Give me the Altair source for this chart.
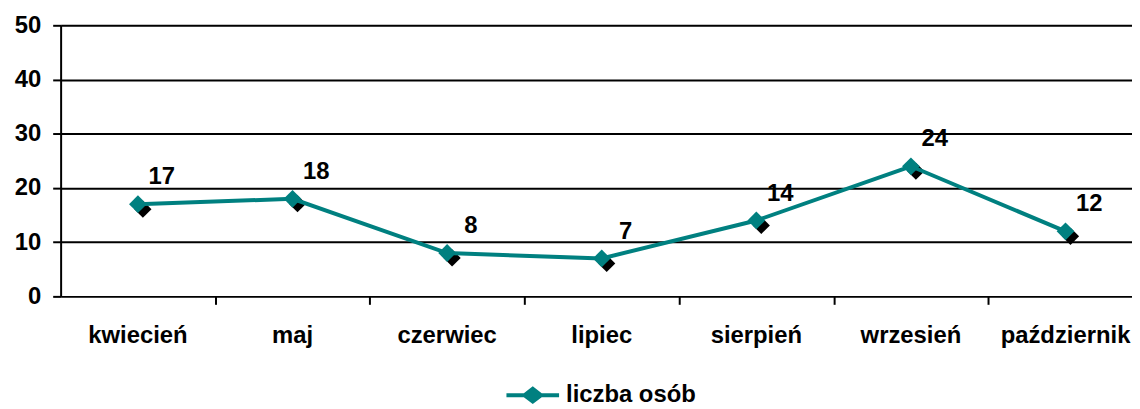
import altair as alt
import pandas as pd

months = ["kwiecień", "maj", "czerwiec", "lipiec", "sierpień", "wrzesień", "październik"]
counts = [17, 18, 8, 7, 14, 24, 12]
series_name = "liczba osób"
y_ticks = [0, 10, 20, 30, 40, 50]

df = pd.DataFrame({
    "month": months,
    "count": counts,
    "pos": [i + 0.5 for i in range(len(months))],
    "series": [series_name] * len(months),
})

TEAL = "#008080"
FONT = "Liberation Sans"
FS = 24
W, H = 1079, 273
STEP = 155.7

xscale = alt.Scale(domain=[0, W / STEP], nice=False, zero=False)
yscale = alt.Scale(domain=[0, 50], nice=False)

x_axis = alt.Axis(values=list(range(1, len(months))), labels=False, grid=False,
                  tickSize=8, tickWidth=2, tickColor="black", domain=False, title=None)
y_axis = alt.Axis(values=y_ticks, grid=True, gridColor="black", gridWidth=2, gridOpacity=1,
                  domainColor="black", domainWidth=2, tickColor="black", tickWidth=2,
                  tickSize=8, labelFont=FONT, labelFontSize=FS, labelFontWeight="bold",
                  labelColor="black", labelPadding=12, title=None)

base = alt.Chart(df)
X = alt.X("pos:Q", scale=xscale, axis=x_axis)
Y = alt.Y("count:Q", scale=yscale, axis=y_axis)

shadow = base.mark_point(shape="diamond", filled=True, size=300, color="black",
                         opacity=1, xOffset=5, yOffset=5).encode(x=X, y=Y)
line = base.mark_line(color=TEAL, strokeWidth=4).encode(x=X, y=Y)

legend_path = ("M-1,-0.075L-0.34,-0.075L0,-0.34L0.34,-0.075L1,-0.075L1,0.075"
               "L0.34,0.075L0,0.34L-0.34,0.075L-1,0.075Z")

points = base.mark_point(shape="diamond", filled=True, size=320, opacity=1).encode(
    x=X, y=Y,
    color=alt.Color("series:N", scale=alt.Scale(range=[TEAL]),
                    legend=alt.Legend(title=None, orient="none", legendX=449, legendY=346,
                                      symbolType=legend_path, symbolSize=2809,
                                      symbolFillColor=TEAL, symbolStrokeWidth=0,
                                      labelFont=FONT, labelFontSize=FS, labelFontWeight="bold",
                                      labelColor="black", labelOffset=7, padding=0)),
)

values = base.mark_text(dx=24, dy=-27, font=FONT, fontSize=FS, fontWeight="bold",
                        color="black").encode(x=X, y=Y, text="count:Q")

month_labels = base.mark_text(font=FONT, fontSize=FS, fontWeight="bold", color="black",
                              baseline="alphabetic").encode(
    x=X, y=alt.value(H + 47), text="month:N")

chart = alt.layer(shadow, line, points, values, month_labels).properties(
    width=W, height=H,
    autosize=alt.AutoSizeParams(type="none"),
    padding={"left": 53, "top": 16, "right": 0, "bottom": 112},
).configure_view(stroke=None).configure(background="white")

chart.save("out.html", embed_options={"renderer": "svg", "actions": False})
